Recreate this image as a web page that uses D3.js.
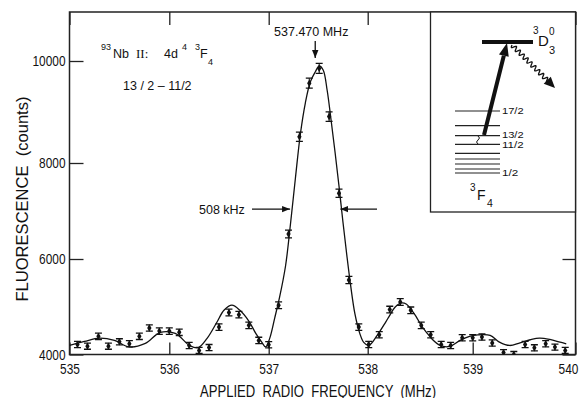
<!DOCTYPE html>
<html>
<head>
<meta charset="utf-8">
<script src="https://cdn.jsdelivr.net/npm/d3@7"></script>
<style>
  html, body { margin: 0; padding: 0; background: #fff; }
  svg { display: block; }
  .axis text { font-family: "Liberation Sans", Arial, sans-serif; font-size: 15px; fill: #111; }
  .axis line { stroke: #222; stroke-width: 1.3; }
  .lbl { font-family: "Liberation Sans", Arial, sans-serif; fill: #111; }
</style>
</head>
<body>
<div id="chart"></div>
<script>
// measured points (MHz, counts, 1-sigma)
const freq = [535.08, 535.18, 535.29, 535.39, 535.50, 535.60, 535.70, 535.80, 535.90,
  536.00, 536.10, 536.20, 536.30, 536.40, 536.50, 536.60, 536.70, 536.80, 536.90,
  537.00, 537.10, 537.20, 537.31, 537.41, 537.51, 537.61, 537.71, 537.81, 537.91,
  538.01, 538.11, 538.21, 538.31, 538.41, 538.51, 538.60, 538.70, 538.79, 538.90,
  539.00, 539.09, 539.19, 539.30, 539.40, 539.51, 539.60, 539.71, 539.80, 539.90];
const counts = [4210, 4175, 4380, 4175, 4265, 4225, 4380, 4555, 4490,
  4490, 4465, 4190, 4085, 4145, 4575, 4880, 4835, 4610, 4295,
  4205, 5030, 6520, 8515, 9565, 9855, 8910, 7370, 5560, 4575,
  4210, 4415, 4940, 5100, 4925, 4610, 4415, 4210, 4190, 4350,
  4350, 4365, 4240, 4040, 4000, 4210, 4140, 4225, 4155, 4085];
const errs = [65, 65, 66, 65, 65, 65, 66, 67, 67,
  67, 67, 65, 64, 64, 68, 70, 70, 68, 66,
  65, 71, 81, 92, 98, 99, 94, 86, 75, 68,
  65, 66, 70, 71, 70, 68, 66, 65, 65, 66,
  66, 66, 65, 64, 63, 65, 64, 65, 64, 64];

// fitted line shape
const fitFreq = [535.00, 535.15, 535.30, 535.45, 535.60, 535.76, 535.91, 536.06, 536.21, 536.29,
  536.38, 536.48, 536.55, 536.63, 536.71, 536.80, 536.87, 536.93, 536.97, 537.01,
  537.06, 537.11, 537.17, 537.22, 537.27, 537.32, 537.37, 537.42, 537.47, 537.51,
  537.55, 537.59, 537.63, 537.67, 537.71, 537.75, 537.79, 537.83, 537.87, 537.92,
  537.96, 538.01, 538.09, 538.17, 538.21, 538.26, 538.32, 538.37, 538.42, 538.46,
  538.51, 538.56, 538.61, 538.69, 538.78, 538.88, 538.97, 539.05, 539.17, 539.26,
  539.36, 539.46, 539.56, 539.65, 539.75, 539.85, 539.91];
const fitCounts = [4190, 4274, 4343, 4295, 4158, 4232, 4463, 4442, 4179, 4141,
  4337, 4680, 4926, 5032, 4926, 4701, 4442, 4259, 4158, 4337,
  4758, 5200, 5853, 6729, 7688, 8569, 9176, 9588, 9784, 9902,
  9824, 9431, 8843, 8216, 7520, 6771, 6063, 5410, 4863, 4442,
  4253, 4189, 4400, 4674, 4821, 4989, 5080, 5053, 4926, 4800,
  4610, 4463, 4330, 4189, 4168, 4295, 4379, 4410, 4400, 4259,
  4189, 4246, 4309, 4343, 4316, 4259, 4225];

const xTicks = [535, 536, 537, 538, 539, 540];
const yTicks = [4000, 6000, 8000, 10000];
const peakFreq = 537.470;
const fwhm = 0.508;
const halfMax = 7040;
const hfsLevels = [111, 125.7, 135.7, 144.3, 153.3, 159, 164, 169, 173];
const hfsLabels = { 0: '17/2', 2: '13/2', 3: '11/2', 8: '1/2' };

const W = 581, H = 398;
const pL = 69.5, pR = 575.5, pT = 12, pB = 354.5;
const digitW = 6.6; // printed tick digits are condensed

const svg = d3.select('#chart').append('svg')
  .attr('width', W).attr('height', H);

// the scanned axis is slightly uneven, so the scale follows the printed ticks
const x = d3.scaleLinear()
  .domain([535, 536, 537, 538, 539, 540])
  .range([pL, 169.3, 268.7, 367.7, 472.7, pR]);
const y = d3.scaleLinear()
  .domain([4000, 6000, 8000, 10000, 10960])
  .range([pB, 259, 163, 61, pT]);

// axes, ticks point inward
svg.append('g').attr('class', 'axis')
  .attr('transform', `translate(0,${pB})`)
  .call(d3.axisBottom(x).tickValues(xTicks).tickFormat(d3.format('d'))
    .tickSizeInner(-12).tickSizeOuter(0).tickPadding(9));
svg.append('g').attr('class', 'axis')
  .attr('transform', `translate(0,${pT})`)
  .call(d3.axisTop(x).tickValues(xTicks).tickFormat('')
    .tickSizeInner(-13).tickSizeOuter(0));
svg.append('g').attr('class', 'axis')
  .attr('transform', `translate(${pL},0)`)
  .call(d3.axisLeft(y).tickValues(yTicks).tickFormat(d3.format('d'))
    .tickSizeInner(-14).tickSizeOuter(0).tickPadding(4));
svg.append('g').attr('class', 'axis')
  .attr('transform', `translate(${pR},0)`)
  .call(d3.axisRight(y).tickValues(yTicks).tickFormat('')
    .tickSizeInner(-13).tickSizeOuter(0));
svg.selectAll('.axis .domain').remove();
svg.selectAll('.axis text')
  .filter(function () { return this.textContent.length > 0; })
  .attr('textLength', function () { return this.textContent.length * digitW; })
  .attr('lengthAdjust', 'spacingAndGlyphs');
// last label sits at the page edge, nudge it in
svg.selectAll('.axis .tick').filter(d => d === 540).select('text').attr('x', -7.5);

svg.append('rect')
  .attr('x', pL).attr('y', pT)
  .attr('width', pR - pL).attr('height', pB - pT)
  .attr('fill', 'none').attr('stroke', '#222').attr('stroke-width', 1.5);

// axis titles
svg.append('text').attr('class', 'lbl')
  .attr('x', 200).attr('y', 396.5)
  .attr('font-size', 16)
  .attr('textLength', 236).attr('lengthAdjust', 'spacingAndGlyphs')
  .attr('xml:space', 'preserve')
  .text('APPLIED  RADIO  FREQUENCY  (MHz)');
svg.append('text').attr('class', 'lbl')
  .attr('transform', 'translate(27.5,199) rotate(-90)')
  .attr('text-anchor', 'middle')
  .attr('font-size', 16)
  .attr('textLength', 205).attr('lengthAdjust', 'spacingAndGlyphs')
  .attr('xml:space', 'preserve')
  .text('FLUORESCENCE  (counts)');

const plot = svg.append('g');
plot.append('clipPath').attr('id', 'clip')
  .append('rect').attr('x', pL).attr('y', pT)
  .attr('width', pR - pL).attr('height', pB - pT);
const inner = plot.append('g').attr('clip-path', 'url(#clip)');

// fitted curve
const line = d3.line()
  .x(d => x(d[0])).y(d => y(d[1]))
  .curve(d3.curveCatmullRom.alpha(0.5));
inner.append('path')
  .datum(fitFreq.map((f, i) => [f, fitCounts[i]]))
  .attr('d', line)
  .attr('fill', 'none').attr('stroke', '#111').attr('stroke-width', 1.3);

// data with error bars
const pts = freq.map((f, i) => ({ f, c: counts[i], e: errs[i] }));
const eb = inner.selectAll('g.pt').data(pts).enter().append('g').attr('class', 'pt');
const cap = 3.5;
eb.append('line')
  .attr('x1', d => x(d.f)).attr('x2', d => x(d.f))
  .attr('y1', d => y(d.c - d.e)).attr('y2', d => y(d.c + d.e))
  .attr('stroke', '#111').attr('stroke-width', 1.1);
eb.append('line')
  .attr('x1', d => x(d.f) - cap).attr('x2', d => x(d.f) + cap)
  .attr('y1', d => y(d.c + d.e)).attr('y2', d => y(d.c + d.e))
  .attr('stroke', '#111').attr('stroke-width', 1.3);
eb.append('line')
  .attr('x1', d => x(d.f) - cap).attr('x2', d => x(d.f) + cap)
  .attr('y1', d => y(d.c - d.e)).attr('y2', d => y(d.c - d.e))
  .attr('stroke', '#111').attr('stroke-width', 1.3);
eb.append('path')
  .attr('d', d3.symbol(d3.symbolDiamond, 16))
  .attr('transform', d => `translate(${x(d.f)},${y(d.c)})`)
  .attr('fill', '#111');

// annotations
svg.append('defs').append('marker')
  .attr('id', 'ah').attr('viewBox', '0 0 10 10')
  .attr('refX', 10).attr('refY', 5)
  .attr('markerWidth', 8).attr('markerHeight', 8)
  .attr('markerUnits', 'userSpaceOnUse')
  .attr('orient', 'auto')
  .append('path').attr('d', 'M0,1 L10,5 L0,9 Z').attr('fill', '#111');

const px = x(peakFreq);
svg.append('text').attr('class', 'lbl')
  .attr('x', px - 4).attr('y', 36).attr('text-anchor', 'middle')
  .attr('font-size', 12.5).text('537.470 MHz');
svg.append('line')
  .attr('x1', px).attr('x2', px).attr('y1', 41).attr('y2', 58)
  .attr('stroke', '#111').attr('stroke-width', 1.3).attr('marker-end', 'url(#ah)');

const hy = y(halfMax);
svg.append('line')
  .attr('x1', 252).attr('x2', x(peakFreq - fwhm / 2)).attr('y1', hy).attr('y2', hy)
  .attr('stroke', '#111').attr('stroke-width', 1.2).attr('marker-end', 'url(#ah)');
svg.append('line')
  .attr('x1', 377).attr('x2', x(peakFreq + fwhm / 2)).attr('y1', hy).attr('y2', hy)
  .attr('stroke', '#111').attr('stroke-width', 1.2).attr('marker-end', 'url(#ah)');
svg.append('text').attr('class', 'lbl')
  .attr('x', 199).attr('y', hy + 5).attr('font-size', 12.5).text('508 kHz');

// species label
const sp = svg.append('text').attr('class', 'lbl').attr('font-size', 12.5);
sp.append('tspan').attr('x', 101).attr('y', 50).attr('font-size', 9).text('93');
sp.append('tspan').attr('x', 113).attr('y', 58).text('Nb');
sp.append('tspan').attr('x', 136).attr('y', 58)
  .attr('font-family', '"Liberation Serif", "DejaVu Serif", serif').attr('font-size', 13).text('II:');
sp.append('tspan').attr('x', 164).attr('y', 58).text('4d');
sp.append('tspan').attr('x', 182).attr('y', 50).attr('font-size', 9).text('4');
sp.append('tspan').attr('x', 195).attr('y', 50).attr('font-size', 9).text('3');
sp.append('tspan').attr('x', 200).attr('y', 58).text('F');
sp.append('tspan').attr('x', 208).attr('y', 65).attr('font-size', 9).text('4');
svg.append('text').attr('class', 'lbl')
  .attr('x', 123).attr('y', 90).attr('font-size', 12.5)
  .attr('xml:space', 'preserve').text('13 / 2 \u2013 11/2');

// inset: level scheme
const ins = svg.append('g');
ins.append('rect')
  .attr('x', 430.5).attr('y', pT).attr('width', pR - 430.5).attr('height', 212 - pT)
  .attr('fill', '#fff').attr('stroke', '#222').attr('stroke-width', 1.3);
ins.selectAll('line.lvl').data(hfsLevels).enter().append('line')
  .attr('x1', 455).attr('x2', 500).attr('y1', d => d).attr('y2', d => d)
  .attr('stroke', '#222').attr('stroke-width', 1.2);
// 13/2 and 11/2 are tight, so their labels lean apart a little
const lblShift = { 2: 2.6, 3: 4 };
ins.selectAll('text.lvl').data(hfsLevels.map((v, i) => [v, hfsLabels[i], i]).filter(d => d[1]))
  .enter().append('text').attr('class', 'lbl')
  .attr('x', 502).attr('y', d => d[0] + (lblShift[d[2]] || 3.2)).attr('font-size', 8.5)
  .attr('textLength', d => d[1].length * 5.4).attr('lengthAdjust', 'spacingAndGlyphs')
  .text(d => d[1]);
ins.append('line').attr('x1', 482).attr('x2', 533).attr('y1', 42).attr('y2', 42)
  .attr('stroke', '#111').attr('stroke-width', 4);

// pumping arrow
const a0 = [484, 135], a1 = [507, 43];
const ux = (a1[0] - a0[0]), uy = (a1[1] - a0[1]);
const ul = Math.hypot(ux, uy), u = [ux / ul, uy / ul], n = [-u[1], u[0]];
const hb = [a1[0] - 13 * u[0], a1[1] - 13 * u[1]];
ins.append('line').attr('x1', a0[0]).attr('y1', a0[1]).attr('x2', hb[0]).attr('y2', hb[1])
  .attr('stroke', '#111').attr('stroke-width', 4);
ins.append('path')
  .attr('d', `M${a1[0]},${a1[1]} L${hb[0] + 5 * n[0]},${hb[1] + 5 * n[1]} L${hb[0] - 5 * n[0]},${hb[1] - 5 * n[1]} Z`)
  .attr('fill', '#111');

// decay (wavy) arrow
const w0 = [512, 45], w1 = [548, 81], wt = [555, 88];
const wl = Math.hypot(w1[0] - w0[0], w1[1] - w0[1]);
const wu = [(w1[0] - w0[0]) / wl, (w1[1] - w0[1]) / wl], wn = [-wu[1], wu[0]];
const wave = d3.range(0, wl + 0.01, 0.5).map(s => {
  const a = 2.2 * Math.sin(s / 5.5 * 2 * Math.PI);
  return [w0[0] + wu[0] * s + wn[0] * a, w0[1] + wu[1] * s + wn[1] * a];
});
ins.append('path').attr('d', d3.line()(wave))
  .attr('fill', 'none').attr('stroke', '#111').attr('stroke-width', 1.3);
const wb = [wt[0] - 11 * wu[0], wt[1] - 11 * wu[1]];
ins.append('path')
  .attr('d', `M${wt[0]},${wt[1]} L${wb[0] + 5 * wn[0]},${wb[1] + 5 * wn[1]} L${wb[0] - 5 * wn[0]},${wb[1] - 5 * wn[1]} Z`)
  .attr('fill', '#111');

// small squiggle between 13/2 and 11/2
ins.append('path').attr('d', 'M478,136 q3,2 0,4 q-3,2 0,4')
  .attr('fill', 'none').attr('stroke', '#111').attr('stroke-width', 1);

// term labels
const up = ins.append('text').attr('class', 'lbl').attr('font-size', 15);
up.append('tspan').attr('x', 533).attr('y', 34).attr('font-size', 10).text('3');
up.append('tspan').attr('x', 538).attr('y', 46).text('D');
up.append('tspan').attr('x', 549).attr('y', 35).attr('font-size', 10).text('0');
up.append('tspan').attr('x', 549).attr('y', 54).attr('font-size', 11).text('3');
const lo = ins.append('text').attr('class', 'lbl').attr('font-size', 14);
lo.append('tspan').attr('x', 470).attr('y', 191).attr('font-size', 10).text('3');
lo.append('tspan').attr('x', 477).attr('y', 200).text('F');
lo.append('tspan').attr('x', 487).attr('y', 207).attr('font-size', 10.5).text('4');
</script>
</body>
</html>
